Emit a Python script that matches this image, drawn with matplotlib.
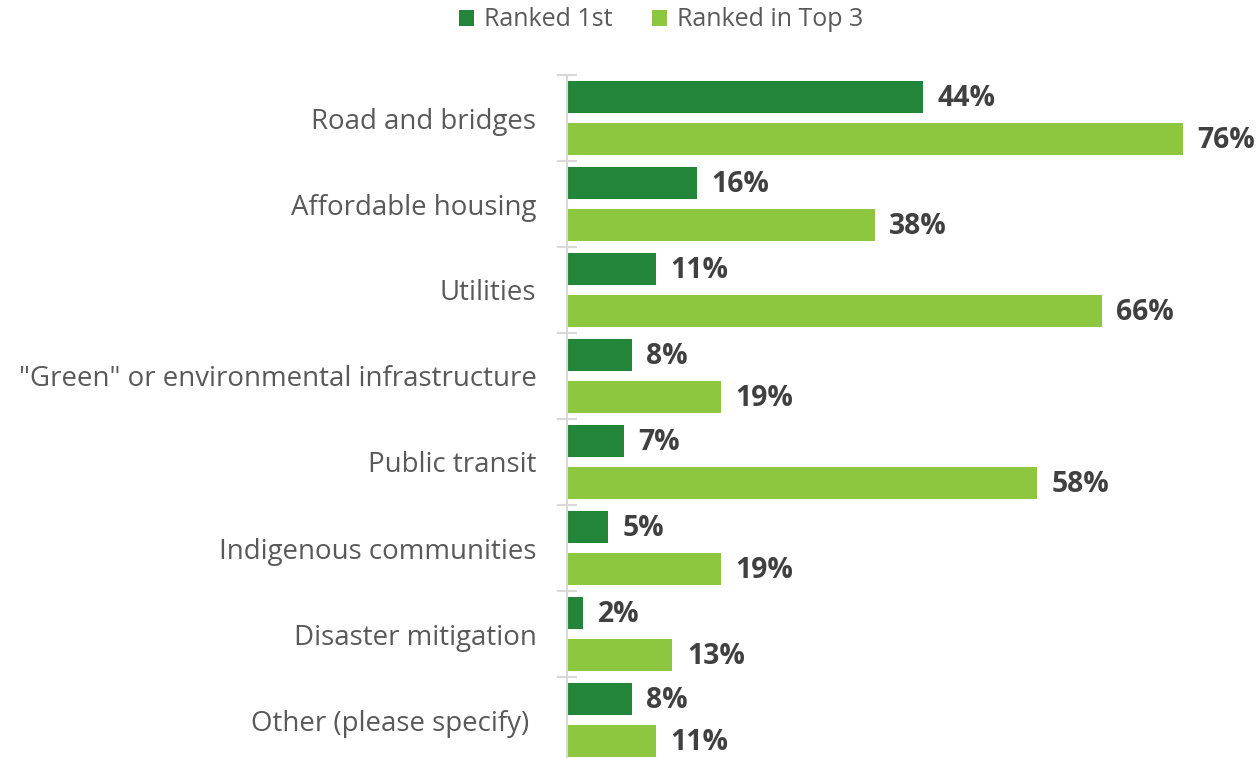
import matplotlib
matplotlib.use("Agg")
import matplotlib.pyplot as plt
from matplotlib.patches import Patch
import numpy as np

categories = [
    "Road and bridges",
    "Affordable housing",
    "Utilities",
    '"Green" or environmental infrastructure',
    "Public transit",
    "Indigenous communities",
    "Disaster mitigation",
    "Other (please specify) ",
]
ranked_first = [44, 16, 11, 8, 7, 5, 2, 8]
ranked_top3 = [76, 38, 66, 19, 58, 19, 13, 11]
series_names = ["Ranked 1st", "Ranked in Top 3"]

dark_green = "#23853A"
light_green = "#8DC63F"
label_gray = "#595959"
value_gray = "#404040"

plt.rcParams["font.family"] = ["Open Sans", "DejaVu Sans"]

W, H = 1256, 758
fig = plt.figure(figsize=(W / 100, H / 100), dpi=100)
ax_left = 567 / W
ax_top = 1 - 75 / H
ax_bottom = 1 - 763 / H
ax_right = (567 + 84 * 8.1) / W
ax = fig.add_axes([ax_left, ax_bottom, ax_right - ax_left, ax_top - ax_bottom])

y = np.arange(len(categories))
bar_h = 0.372
offset = 0.244
ax.barh(y - offset, ranked_first, height=bar_h, color=dark_green, label=series_names[0])
ax.barh(y + offset, ranked_top3, height=bar_h, color=light_green, label=series_names[1])

for yi, v in zip(y - offset, ranked_first):
    ax.text(v + 1.8, yi + 0.02, f"{v}%", va="center", ha="left", fontsize=20.3,
            fontweight="bold", color=value_gray)
for yi, v in zip(y + offset, ranked_top3):
    ax.text(v + 1.8, yi + 0.02, f"{v}%", va="center", ha="left", fontsize=20.3,
            fontweight="bold", color=value_gray)

ax.set_xlim(0, 84)
ax.set_ylim(len(categories) - 0.5, -0.5)

ax.set_yticks(y)
ax.set_yticklabels(categories, fontsize=19.9, color=label_gray)
ax.tick_params(axis="y", which="major", length=0, pad=22)
ax.set_yticks(np.arange(-0.5, len(categories), 1.0), minor=True)
ax.tick_params(axis="y", which="minor", length=14, width=1.5, direction="inout",
               color="#D9D9D9")
ax.set_xticks([])

for side in ["top", "right", "bottom"]:
    ax.spines[side].set_visible(False)
ax.spines["left"].set_color("#D9D9D9")
ax.spines["left"].set_linewidth(1.5)

handles = [Patch(facecolor=dark_green), Patch(facecolor=light_green)]
fig.legend(handles, series_names, loc="center", bbox_to_anchor=(661 / W, 1 - 20 / H),
           ncol=2, frameon=False, fontsize=18, labelcolor=label_gray,
           handlelength=0.6, handleheight=0.6, handletextpad=0.4, columnspacing=1.6)

fig.savefig("out.png", dpi=100)
